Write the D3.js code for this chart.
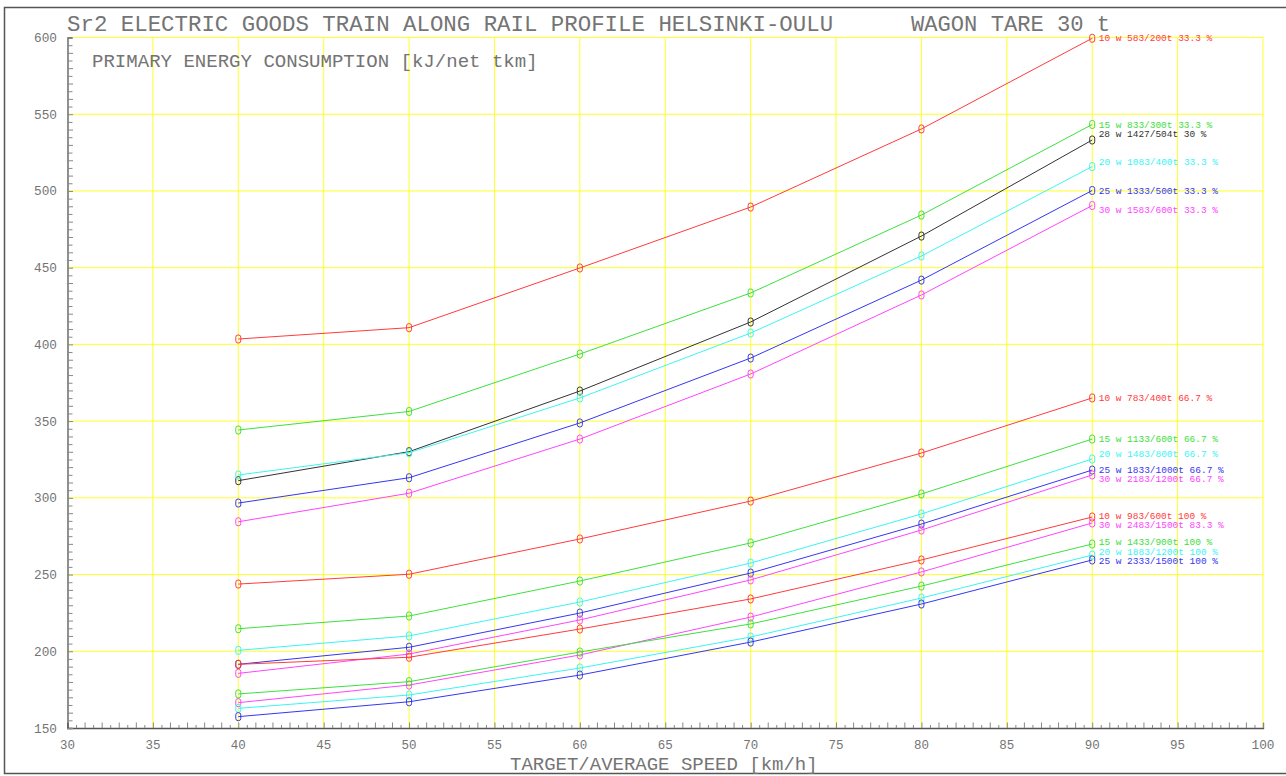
<!DOCTYPE html>
<html>
<head>
<meta charset="utf-8">
<script src="https://cdn.jsdelivr.net/npm/d3@7/dist/d3.min.js"></script>
<style>
  html, body { margin: 0; padding: 0; background: #fff; }
  svg { display: block; }
  text { font-family: "Liberation Mono", "DejaVu Sans Mono", monospace; }
</style>
</head>
<body>
<svg id="chart" width="1286" height="776"></svg>
<script>
// Target / average speed [km/h]
const speeds = [40, 50, 60, 70, 80, 90];

// Primary energy consumption [kJ/net tkm] per train composition
const w10_583 = [403.5, 410.9, 449.8, 489.5, 540.4, 599.5];
const w15_833 = [344.2, 356.3, 393.7, 433.5, 484.3, 543.3];
const w28_1427 = [311.2, 330.1, 369.6, 414.6, 470.6, 533.2];
const w20_1083 = [314.9, 329.4, 365.1, 407.4, 457.6, 515.9];
const w25_1333 = [296.6, 313.1, 348.8, 391.1, 441.9, 500.3];
const w30_1583 = [284.4, 303.0, 338.3, 380.7, 432.2, 490.5];
const w10_783 = [243.8, 250.2, 273.2, 297.9, 329.2, 365.1];
const w15_1133 = [214.7, 223.0, 245.8, 270.6, 302.5, 338.3];
const w20_1483 = [200.6, 210.0, 232.1, 257.5, 289.5, 325.3];
const w25_1833 = [191.5, 202.6, 224.9, 251.0, 282.9, 318.1];
const w30_2183 = [185.6, 198.2, 220.4, 246.5, 279.0, 314.9];
const w10_983 = [191.5, 196.1, 214.5, 234.1, 259.5, 287.5];
const w30_2483 = [166.5, 178.0, 197.6, 222.3, 251.7, 283.6];
const w15_1433 = [172.2, 180.2, 199.5, 217.8, 242.5, 269.9];
const w20_1883 = [162.8, 171.5, 189.1, 209.3, 234.7, 262.7];
const w25_2333 = [157.4, 167.1, 184.5, 206.0, 230.8, 259.5];

const seriesValues = [
  w10_583, w15_833, w28_1427, w20_1083, w25_1333, w30_1583,
  w10_783, w15_1133, w20_1483, w25_1833, w30_2183,
  w10_983, w30_2483, w15_1433, w20_1883, w25_2333
];

const seriesLabels = [
  "10 w 583/200t 33.3 %", "15 w 833/300t 33.3 %", "28 w 1427/504t 30 %",
  "20 w 1083/400t 33.3 %", "25 w 1333/500t 33.3 %", "30 w 1583/600t 33.3 %",
  "10 w 783/400t 66.7 %", "15 w 1133/600t 66.7 %", "20 w 1483/800t 66.7 %",
  "25 w 1833/1000t 66.7 %", "30 w 2183/1200t 66.7 %",
  "10 w 983/600t 100 %", "30 w 2483/1500t 83.3 %", "15 w 1433/900t 100 %",
  "20 w 1883/1200t 100 %", "25 w 2333/1500t 100 %"
];

// Axis tick labels
const xTickLabels = [30, 35, 40, 45, 50, 55, 60, 65, 70, 75, 80, 85, 90, 95, 100];
const yTickLabels = [150, 200, 250, 300, 350, 400, 450, 500, 550, 600];

const titleLeft = "Sr2 ELECTRIC GOODS TRAIN ALONG RAIL PROFILE HELSINKI-OULU";
const titleRight = "WAGON TARE 30 t";
const subTitle = "PRIMARY ENERGY CONSUMPTION [kJ/net tkm]";
const xTitle = "TARGET/AVERAGE SPEED [km/h]";

// ---- styling ----
const colorOf = {
  red: "#ff3b3b", green: "#3ee03e", black: "#333333",
  cyan: "#3cf4f4", blue: "#3636f2", magenta: "#ff44ff"
};
const seriesColor = [
  "red", "green", "black", "cyan", "blue", "magenta",
  "red", "green", "cyan", "blue", "magenta",
  "red", "magenta", "green", "cyan", "blue"
].map(c => colorOf[c]);
// small vertical nudges (px) that keep end labels legible
const labelNudge = {2: -6, 3: -5, 5: 4, 8: -5, 10: 4, 11: -1, 12: 2, 13: -2.5, 14: -3.5, 15: 1};

const TEXT = "#747474";
const AXIS = "#555";
const GRID = "#ffff2a";

const svg = d3.select("#chart");

const x = d3.scaleLinear().domain([30, 100]).range([67.5, 1263]);
const y = d3.scaleLinear().domain([150, 600]).range([728, 37.5]);

// outer frame
svg.append("rect")
  .attr("x", 4.5).attr("y", 7.5).attr("width", 1295).attr("height", 766)
  .attr("fill", "none").attr("stroke", AXIS).attr("stroke-width", 1.5);

// yellow grid
const grid = svg.append("g").attr("stroke", GRID).attr("stroke-width", 1);
grid.selectAll("line.v").data(xTickLabels.filter(v => v > 30)).join("line")
  .attr("x1", d => x(d)).attr("x2", d => x(d))
  .attr("y1", y(150)).attr("y2", y(600));
grid.selectAll("line.h").data(yTickLabels.filter(v => v > 150)).join("line")
  .attr("x1", x(30)).attr("x2", x(100))
  .attr("y1", d => y(d)).attr("y2", d => y(d));

// axes drawn with d3-axis, ticks pointing into the plot
const xMinor = d3.range(30, 100.001, 0.5);
const xAxisG = svg.append("g").attr("transform", `translate(0,${y(150)})`)
  .call(d3.axisTop(x).tickValues(xMinor).tickSizeOuter(0)
    .tickSize(5).tickFormat(""));
xAxisG.selectAll(".tick line")
  .attr("y2", d => (Math.abs(d - Math.round(d)) < 1e-6 ? -5.5 : -3))
  .attr("stroke", "#888");
xAxisG.select(".domain").attr("stroke", AXIS).attr("stroke-width", 1.3);

const yMinor = d3.range(150, 600.001, 5);
const yAxisG = svg.append("g").attr("transform", `translate(${x(30)},0)`)
  .call(d3.axisRight(y).tickValues(yMinor).tickSizeOuter(0)
    .tickSize(5).tickFormat(""));
yAxisG.selectAll(".tick line")
  .attr("x2", d => (d % 10 === 0 ? 5.5 : 5))
  .attr("stroke", "#888");
yAxisG.select(".domain").attr("stroke", AXIS).attr("stroke-width", 1.3);

// tick labels
svg.append("g").selectAll("text").data(yTickLabels).join("text")
  .attr("x", 57).attr("y", d => y(d) + 4.5)
  .attr("text-anchor", "end").attr("font-size", 13.3).attr("fill", TEXT)
  .attr("textLength", d => String(d).length * 8 - 1).attr("lengthAdjust", "spacingAndGlyphs")
  .text(d => d);
svg.append("g").selectAll("text").data(xTickLabels).join("text")
  .attr("x", d => x(d)).attr("y", 749)
  .attr("text-anchor", "middle").attr("font-size", 13.3).attr("fill", TEXT)
  .attr("textLength", d => String(d).length * 8 - 1).attr("lengthAdjust", "spacingAndGlyphs")
  .text(d => d);

// titles
function label(str, px, py, size, advance) {
  svg.append("text").attr("x", px).attr("y", py)
    .attr("font-size", size).attr("fill", TEXT)
    .attr("textLength", str.length * advance - advance * 0.25)
    .attr("lengthAdjust", "spacingAndGlyphs").text(str);
}
label(titleLeft, 67, 31, 22.5, 13.5);
label(titleRight, 911, 31, 22.5, 13.5);
label(subTitle, 92, 67, 19, 11.5);
label(xTitle, 510, 770, 19, 11.5);

// series lines
const line = d3.line().x((d, i) => x(speeds[i])).y(d => y(d));
const series = svg.append("g").selectAll("g").data(seriesValues).join("g")
  .attr("stroke", (d, i) => seriesColor[i]).attr("fill", "none");
series.append("path").attr("d", d => line(d)).attr("stroke-width", 1);
series.selectAll("rect").data(d => d).join("rect")
  .attr("x", (d, i) => x(speeds[i]) - 2.5).attr("y", d => y(d) - 4)
  .attr("width", 5).attr("height", 8).attr("rx", 2.2)
  .attr("stroke-width", 1).attr("fill", "none");

// end labels
svg.append("g").selectAll("text").data(seriesValues).join("text")
  .attr("x", x(speeds[speeds.length - 1]) + 6.5)
  .attr("y", (d, i) => y(d[d.length - 1]) + 3.2 + (labelNudge[i] || 0))
  .attr("font-size", 8.8).attr("fill", (d, i) => seriesColor[i])
  .attr("textLength", (d, i) => seriesLabels[i].length * 5.75 - 1.5)
  .attr("lengthAdjust", "spacingAndGlyphs")
  .text((d, i) => seriesLabels[i]);
</script>
</body>
</html>
